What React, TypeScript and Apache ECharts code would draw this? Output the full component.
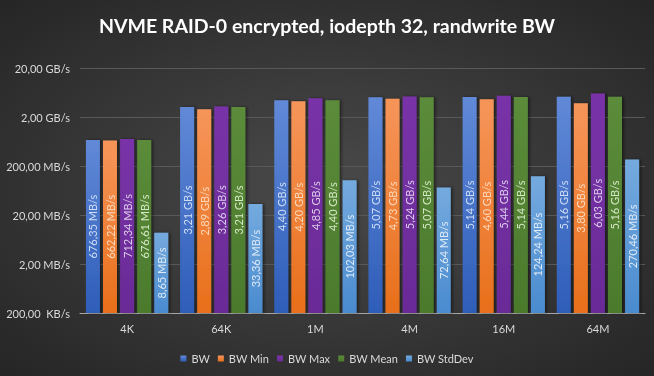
import React, { useEffect, useRef } from "react";
import * as echarts from "echarts";

const categories = ["4K", "64K", "1M", "4M", "16M", "64M"];
// values in MB/s
const bw = [676.35, 3210, 4400, 5070, 5140, 5160];
const bwMin = [662.22, 2890, 4200, 4730, 4600, 3800];
const bwMax = [712.34, 3260, 4850, 5240, 5440, 6030];
const bwMean = [676.61, 3210, 4400, 5070, 5140, 5160];
const bwStdDev = [8.65, 33.36, 102.03, 72.64, 124.24, 270.46];
const seriesNames = ["BW", "BW Min", "BW Max", "BW Mean", "BW StdDev"];

// axis unit: 200 KB/s = 1 (so decade ticks land on 200 KB/s multiples)
const UNIT = 0.2;

const FONT = "Lato";

function fmtNum(v: number) {
  return v.toFixed(2).replace(".", ",");
}
function fmtRate(mb: number, axis = false) {
  if (mb >= 1000) return fmtNum(mb / 1000) + " GB/s";
  if (mb >= 1) return fmtNum(mb) + " MB/s";
  return fmtNum(mb * 1000) + (axis ? "  KB/s" : " KB/s");
}

const styles = [
  { top: "#6189d8", bottom: "#2e5db8", label: "#cdddf5" },
  { top: "#f6955a", bottom: "#e86f1a", label: "#fcd9bd" },
  { top: "#7933a8", bottom: "#692b96", label: "#dccbeb" },
  { top: "#5b8c3a", bottom: "#4b7a2c", label: "#d3e8c4" },
  { top: "#74aade", bottom: "#4a8bcf", label: "#dde9f6" },
];

export default function App() {
  const ref = useRef<HTMLDivElement>(null);
  useEffect(() => {
    if (!ref.current) return;
    const chart = echarts.init(ref.current, null, { renderer: "svg" });
    const all = [bw, bwMin, bwMax, bwMean, bwStdDev];
    const series = all.map((arr, i) => ({
      name: seriesNames[i],
      type: "bar",
      barWidth: 14,
      barGap: "22%",
      data: arr.map((v) => v / UNIT),
      itemStyle: {
        color: new echarts.graphic.LinearGradient(0, 0, 0, 1, [
          { offset: 0, color: styles[i].top },
          { offset: 1, color: styles[i].bottom },
        ]),
        shadowColor: "rgba(0,0,0,0.45)",
        shadowBlur: 3,
        shadowOffsetX: 2,
        shadowOffsetY: 0,
      },
      label: {
        show: true,
        position: "inside",
        rotate: 90,
        color: styles[i].label,
        fontFamily: FONT,
        fontSize: 11,
        formatter: (p: any) => fmtRate(p.value * UNIT),
      },
    }));
    chart.setOption({
      animation: false,
      backgroundColor: {
        type: "radial",
        x: 0.5,
        y: 0.5,
        r: 0.75,
        colorStops: [
          { offset: 0, color: "#4a4a4a" },
          { offset: 1, color: "#232323" },
        ],
      },
      title: {
        text: "NVME RAID-0 encrypted, iodepth 32, randwrite BW",
        left: "center",
        top: 10,
        textStyle: {
          color: "#ffffff",
          fontFamily: FONT,
          fontSize: 19.5,
          fontWeight: "bold",
        },
      },
      legend: {
        data: seriesNames,
        top: 348,
        left: "center",
        icon: "rect",
        itemWidth: 6,
        itemHeight: 6,
        itemGap: 8,
        textStyle: {
          color: "#d9d9d9",
          fontFamily: FONT,
          fontSize: 11,
        },
      },
      grid: { left: 80, right: 9, top: 68, bottom: 63, containLabel: false },
      xAxis: {
        type: "category",
        data: categories,
        axisLine: { lineStyle: { color: "#a6a6a6", width: 1 } },
        axisTick: { show: false },
        axisLabel: { color: "#d9d9d9", fontFamily: FONT, fontSize: 11, margin: 10 },
      },
      yAxis: {
        type: "log",
        logBase: 10,
        min: 1,
        max: 100000,
        axisLine: { show: false },
        axisTick: { show: false },
        splitLine: { lineStyle: { color: "#595959", width: 1 } },
        axisLabel: {
          color: "#d9d9d9",
          fontFamily: FONT,
          fontSize: 11,
          margin: 10,
          formatter: (v: number) => fmtRate(v * UNIT, true),
        },
      },
      series,
    });
    return () => chart.dispose();
  }, []);
  return (
    <div
      ref={ref}
      style={{ position: "fixed", left: 0, top: 0, width: 654, height: 376 }}
    />
  );
}
